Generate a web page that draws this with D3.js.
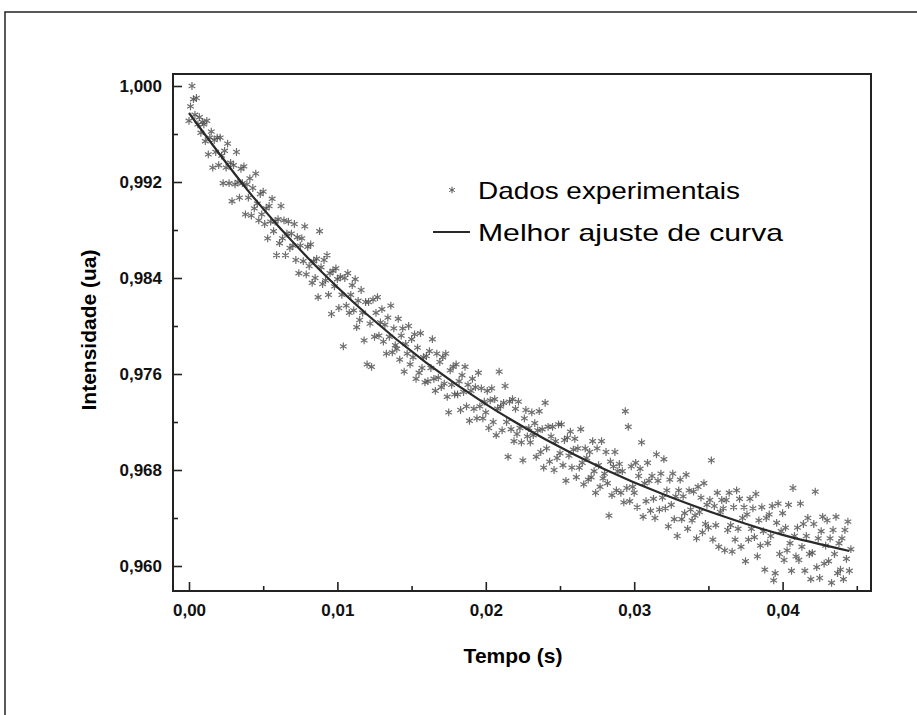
<!DOCTYPE html>
<html>
<head>
<meta charset="utf-8">
<script src="https://cdn.jsdelivr.net/npm/d3@7"></script>
<style>
  body { margin: 0; background: #fff; }
  svg { display: block; font-family: "Liberation Sans", Arial, sans-serif; }
  .tick text { font-size: 17px; font-weight: bold; fill: #111; }
  .tick line { stroke: #222; stroke-width: 1.6; }
</style>
</head>
<body>
<div id="chart"></div>
<script>
// sample times: start + index * step (s)
const sampleStart = 0;
const sampleStep = 0.0001;

// measured intensity (ua), one value per sample
const intensity = [
  0.9971,0.9983,1.0000,0.9989,0.9976,0.9990,0.9968,0.9974,0.9961,0.9970,
  0.9968,0.9954,0.9971,0.9943,0.9957,0.9962,0.9932,0.9955,0.9945,0.9957,
  0.9934,0.9957,0.9942,0.9919,0.9946,0.9932,0.9952,0.9919,0.9936,0.9904,
  0.9934,0.9918,0.9945,0.9920,0.9907,0.9931,0.9919,0.9933,0.9893,0.9918,
  0.9907,0.9923,0.9892,0.9915,0.9898,0.9927,0.9902,0.9888,0.9910,0.9893,
  0.9912,0.9885,0.9898,0.9873,0.9900,0.9887,0.9906,0.9879,0.9887,0.9859,
  0.9889,0.9869,0.9900,0.9873,0.9888,0.9859,0.9877,0.9887,0.9865,0.9877,
  0.9867,0.9885,0.9855,0.9874,0.9844,0.9867,0.9873,0.9854,0.9883,0.9843,
  0.9866,0.9850,0.9868,0.9836,0.9854,0.9840,0.9856,0.9824,0.9879,0.9849,
  0.9835,0.9855,0.9838,0.9859,0.9826,0.9844,0.9810,0.9846,0.9833,0.9848,
  0.9839,0.9815,0.9841,0.9826,0.9783,0.9840,0.9817,0.9844,0.9811,0.9826,
  0.9834,0.9813,0.9839,0.9799,0.9821,0.9805,0.9830,0.9811,0.9788,0.9820,
  0.9768,0.9820,0.9802,0.9766,0.9822,0.9791,0.9811,0.9824,0.9792,0.9803,
  0.9814,0.9787,0.9801,0.9777,0.9807,0.9791,0.9817,0.9778,0.9798,0.9784,
  0.9781,0.9806,0.9772,0.9792,0.9798,0.9762,0.9785,0.9777,0.9800,0.9768,
  0.9789,0.9774,0.9793,0.9756,0.9782,0.9761,0.9794,0.9765,0.9774,0.9753,
  0.9775,0.9754,0.9779,0.9765,0.9789,0.9756,0.9746,0.9777,0.9757,0.9770,
  0.9749,0.9774,0.9752,0.9777,0.9741,0.9728,0.9763,0.9751,0.9766,0.9743,
  0.9768,0.9743,0.9754,0.9730,0.9759,0.9745,0.9766,0.9733,0.9751,0.9721,
  0.9746,0.9756,0.9731,0.9749,0.9723,0.9761,0.9733,0.9748,0.9723,0.9737,
  0.9728,0.9746,0.9715,0.9738,0.9748,0.9720,0.9739,0.9709,0.9731,0.9762,
  0.9733,0.9713,0.9736,0.9750,0.9720,0.9691,0.9737,0.9714,0.9739,0.9704,
  0.9731,0.9710,0.9737,0.9715,0.9703,0.9688,0.9723,0.9730,0.9708,0.9715,
  0.9703,0.9728,0.9709,0.9719,0.9691,0.9713,0.9729,0.9695,0.9714,0.9682,
  0.9736,0.9698,0.9716,0.9687,0.9708,0.9716,0.9680,0.9704,0.9690,0.9718,
  0.9694,0.9718,0.9684,0.9705,0.9671,0.9707,0.9692,0.9712,0.9682,0.9697,
  0.9706,0.9674,0.9698,0.9682,0.9714,0.9686,0.9668,0.9698,0.9690,0.9672,
  0.9695,0.9674,0.9704,0.9679,0.9661,0.9698,0.9684,0.9666,0.9704,0.9673,
  0.9677,0.9695,0.9669,0.9642,0.9687,0.9659,0.9683,0.9695,0.9663,0.9679,
  0.9685,0.9661,0.9679,0.9653,0.9729,0.9665,0.9716,0.9654,0.9683,0.9666,
  0.9661,0.9686,0.9649,0.9675,0.9681,0.9703,0.9641,0.9669,0.9654,0.9686,
  0.9671,0.9646,0.9675,0.9656,0.9640,0.9693,0.9671,0.9647,0.9677,0.9657,
  0.9689,0.9648,0.9663,0.9633,0.9672,0.9651,0.9677,0.9639,0.9658,0.9625,
  0.9663,0.9672,0.9639,0.9658,0.9644,0.9676,0.9631,0.9663,0.9647,0.9638,
  0.9662,0.9642,0.9623,0.9666,0.9645,0.9657,0.9628,0.9669,0.9635,0.9651,
  0.9632,0.9655,0.9688,0.9622,0.9650,0.9634,0.9661,0.9616,0.9645,0.9655,
  0.9648,0.9613,0.9655,0.9630,0.9661,0.9634,0.9612,0.9649,0.9622,0.9663,
  0.9631,0.9656,0.9616,0.9640,0.9649,0.9604,0.9643,0.9622,0.9656,0.9631,
  0.9648,0.9624,0.9660,0.9608,0.9638,0.9617,0.9649,0.9629,0.9597,0.9640,
  0.9619,0.9643,0.9625,0.9650,0.9588,0.9594,0.9636,0.9652,0.9610,0.9629,
  0.9644,0.9605,0.9632,0.9613,0.9651,0.9619,0.9596,0.9665,0.9625,0.9608,
  0.9632,0.9605,0.9652,0.9616,0.9635,0.9596,0.9625,0.9640,0.9610,0.9589,
  0.9611,0.9635,0.9662,0.9599,0.9623,0.9590,0.9629,0.9641,0.9602,0.9617,
  0.9638,0.9604,0.9623,0.9586,0.9630,0.9610,0.9641,0.9594,0.9619,0.9597,
  0.9623,0.9589,0.9630,0.9606,0.9637,0.9596,0.9614
];

// best fit curve
const fitTime  = [0, 0.004, 0.008, 0.012, 0.016, 0.020, 0.024, 0.028, 0.032, 0.036, 0.040, 0.0445];
const fitValue = [0.99775, 0.99124, 0.98569, 0.98096, 0.97693, 0.97349, 0.97057, 0.96807, 0.96595, 0.96414, 0.96259, 0.96125];

const xMajor = [0, 0.01, 0.02, 0.03, 0.04];
const xMinor = [0.005, 0.015, 0.025, 0.035, 0.045];
const yMajor = [0.960, 0.968, 0.976, 0.984, 0.992, 1.000];
const yMinor = [0.964, 0.972, 0.980, 0.988, 0.996];

const legendLabels = ["Dados experimentais", "Melhor ajuste de curva"];

const WIDTH = 917, HEIGHT = 715;
const PLOT = { left: 173, top: 74, right: 871, bottom: 591 };

const svg = d3.select("#chart").append("svg")
  .attr("width", WIDTH)
  .attr("height", HEIGHT);

// outer frame of the figure (runs off the right/bottom edge)
svg.append("rect")
  .attr("x", 5).attr("y", 12)
  .attr("width", 940).attr("height", 740)
  .attr("fill", "none")
  .attr("stroke", "#222")
  .attr("stroke-width", 1.5);

const x = d3.scaleLinear().domain([0, 0.04]).range([189, 782.6]);
const y = d3.scaleLinear().domain([0.96, 1.0]).range([566, 86]);

const comma = f => v => d3.format(f)(v).replace(".", ",");

// axes, ticks point inwards
svg.append("g")
  .attr("transform", "translate(0," + PLOT.bottom + ")")
  .call(d3.axisBottom(x).tickValues(xMajor).tickSize(-9).tickSizeOuter(0).tickPadding(13).tickFormat(comma(".2f")))
  .call(g => g.select(".domain").remove());

svg.append("g")
  .attr("transform", "translate(0," + PLOT.bottom + ")")
  .call(d3.axisBottom(x).tickValues(xMinor).tickSize(-5).tickSizeOuter(0).tickFormat(""))
  .call(g => g.select(".domain").remove());

svg.append("g")
  .attr("transform", "translate(" + PLOT.left + ",0)")
  .call(d3.axisLeft(y).tickValues(yMajor).tickSize(-9).tickSizeOuter(0).tickPadding(11).tickFormat(comma(".3f")))
  .call(g => g.select(".domain").remove());

svg.append("g")
  .attr("transform", "translate(" + PLOT.left + ",0)")
  .call(d3.axisLeft(y).tickValues(yMinor).tickSize(-5).tickSizeOuter(0).tickFormat(""))
  .call(g => g.select(".domain").remove());

// data points (blurry grey asterisks like the scan)
const star = d3.symbol().type(d3.symbolAsterisk).size(42);
svg.append("g")
  .selectAll("path")
  .data(intensity)
  .join("path")
  .attr("transform", (d, i) => "translate(" + x(sampleStart + i * sampleStep) + "," + y(d) + ")")
  .attr("d", star)
  .attr("fill", "none")
  .attr("stroke", "#4a4a4a")
  .attr("stroke-width", 1.2)
  .attr("opacity", 0.8);

// fit curve
const line = d3.line()
  .x((d, i) => x(fitTime[i]))
  .y(d => y(d))
  .curve(d3.curveNatural);

svg.append("path")
  .attr("d", line(fitValue))
  .attr("fill", "none")
  .attr("stroke", "#2a2a2a")
  .attr("stroke-width", 2.2);

// plot frame
svg.append("rect")
  .attr("x", PLOT.left).attr("y", PLOT.top)
  .attr("width", PLOT.right - PLOT.left)
  .attr("height", PLOT.bottom - PLOT.top)
  .attr("fill", "none")
  .attr("stroke", "#222")
  .attr("stroke-width", 2);

// axis titles
svg.append("text")
  .attr("x", 513).attr("y", 663)
  .attr("text-anchor", "middle")
  .style("font-size", "21px").style("font-weight", "bold")
  .text("Tempo (s)");

svg.append("text")
  .attr("transform", "translate(96,330) rotate(-90)")
  .attr("text-anchor", "middle")
  .style("font-size", "21px").style("font-weight", "bold")
  .text("Intensidade (ua)");

// legend
const legend = svg.append("g");
legend.append("path")
  .attr("transform", "translate(452,190)")
  .attr("d", d3.symbol().type(d3.symbolAsterisk).size(30))
  .attr("fill", "none")
  .attr("stroke", "#555");
legend.append("line")
  .attr("x1", 433).attr("x2", 470)
  .attr("y1", 232).attr("y2", 232)
  .attr("stroke", "#2a2a2a").attr("stroke-width", 2);

legend.selectAll("text")
  .data(legendLabels)
  .join("text")
  .attr("x", 478)
  .attr("y", (d, i) => 199 + i * 42)
  .attr("textLength", (d, i) => i === 0 ? 262 : 305)
  .attr("lengthAdjust", "spacingAndGlyphs")
  .style("font-size", "24px")
  .text(d => d);
</script>
</body>
</html>
